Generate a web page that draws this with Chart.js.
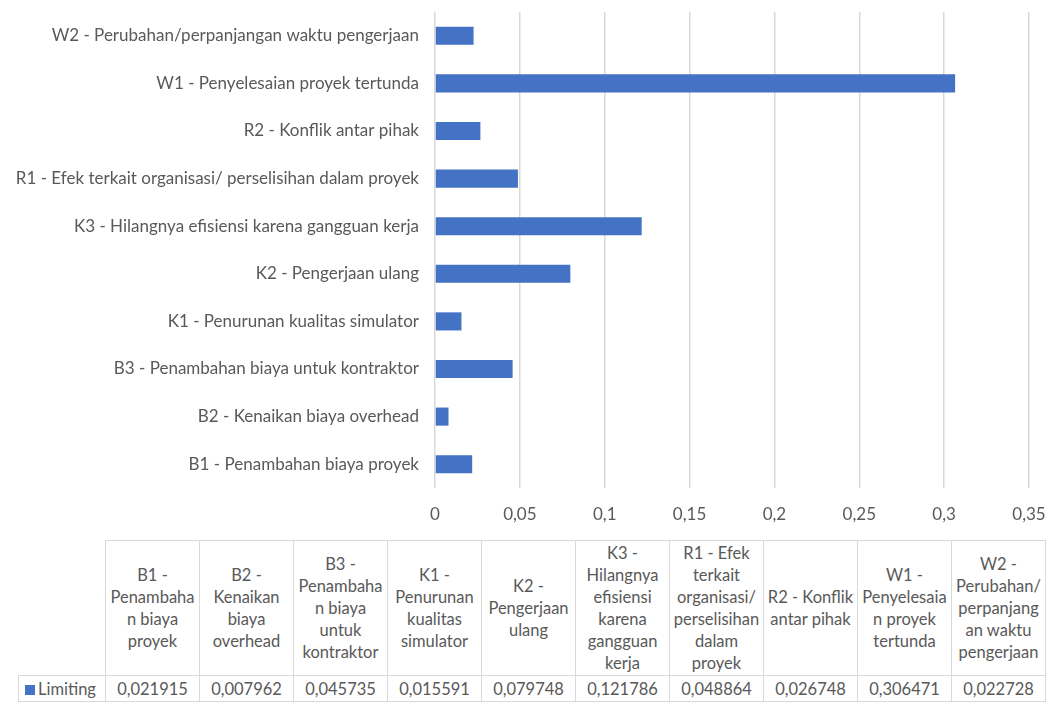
<!DOCTYPE html>
<html>
<head>
<meta charset="utf-8">
<script src="https://cdn.jsdelivr.net/npm/chart.js@4"></script>
<style>
  html, body { margin: 0; padding: 0; background: #fff; }
  body { width: 1048px; height: 704px; position: relative; overflow: hidden; font-family: Lato, "Open Sans", sans-serif; color: #595959; }
  #chartBox { position: absolute; left: 0; top: 0; width: 1048px; height: 530px; }
  #dataTable { position: absolute; left: 18px; top: 540px; border-collapse: collapse; table-layout: fixed; }
  #dataTable td { border: 1px solid #d9d9d9; text-align: center; font-size: 16.5px; line-height: 22px; padding: 0; color: #595959; white-space: nowrap; overflow: hidden; }
  #dataTable tr.head td { height: 134px; vertical-align: middle; }
  #dataTable tr.vals td { height: 25px; font-size: 16.5px; }
  #dataTable td.corner { border-top: none; border-left: none; }
  .swatch { display: inline-block; width: 10px; height: 10px; margin-right: 3px; vertical-align: 0px; }
</style>
</head>
<body>
<div id="chartBox"><canvas id="limitChart"></canvas></div>
<table id="dataTable"></table>
<script>
// Categories (bottom to top in the chart, left to right in the table)
const categories = [
    'B1 - Penambahan biaya proyek',
    'B2 - Kenaikan biaya overhead',
    'B3 - Penambahan biaya untuk kontraktor',
    'K1 - Penurunan kualitas simulator',
    'K2 - Pengerjaan ulang',
    'K3 - Hilangnya efisiensi karena gangguan kerja',
    'R1 - Efek terkait organisasi/ perselisihan dalam proyek',
    'R2 - Konflik antar pihak',
    'W1 - Penyelesaian proyek tertunda',
    'W2 - Perubahan/perpanjangan waktu pengerjaan'
];

// Header labels as wrapped in the data table
const tableHeaders = [
    ['B1 -', 'Penambaha', 'n biaya', 'proyek'],
    ['B2 -', 'Kenaikan', 'biaya', 'overhead'],
    ['B3 -', 'Penambaha', 'n biaya', 'untuk', 'kontraktor'],
    ['K1 -', 'Penurunan', 'kualitas', 'simulator'],
    ['K2 -', 'Pengerjaan', 'ulang'],
    ['K3 -', 'Hilangnya', 'efisiensi', 'karena', 'gangguan', 'kerja'],
    ['R1 - Efek', 'terkait', 'organisasi/', 'perselisihan', 'dalam', 'proyek'],
    ['R2 - Konflik', 'antar pihak'],
    ['W1 -', 'Penyelesaia', 'n proyek', 'tertunda'],
    ['W2 -', 'Perubahan/', 'perpanjang', 'an waktu', 'pengerjaan']
];

const seriesName = 'Limiting';
const limitingValues = [0.021915, 0.007962, 0.045735, 0.015591, 0.079748, 0.121786, 0.048864, 0.026748, 0.306471, 0.022728];
const valueLabels = ['0,021915', '0,007962', '0,045735', '0,015591', '0,079748', '0,121786', '0,048864', '0,026748', '0,306471', '0,022728'];

const xTickLabels = ['0', '0,05', '0,1', '0,15', '0,2', '0,25', '0,3', '0,35'];

const barColor = '#4472C4';
const textColor = '#595959';
const gridColor = '#d9d9d9';

function buildTable() {
    const table = document.getElementById('dataTable');
    let html = '<colgroup><col style="width:87px">';
    for (let i = 0; i < categories.length; i++) html += '<col style="width:94px">';
    html += '</colgroup><tr class="head"><td class="corner"></td>';
    tableHeaders.forEach(lines => { html += '<td>' + lines.join('<br>') + '</td>'; });
    html += '</tr><tr class="vals"><td style="text-align:left;padding-left:6px"><span class="swatch" style="background:' + barColor + '"></span>' + seriesName + '</td>';
    valueLabels.forEach(v => { html += '<td>' + v + '</td>'; });
    html += '</tr>';
    table.innerHTML = html;
}

function drawChart() {
    const ctx = document.getElementById('limitChart').getContext('2d');
    new Chart(ctx, {
        type: 'bar',
        data: {
            labels: categories,
            datasets: [{
                label: seriesName,
                data: limitingValues,
                backgroundColor: barColor,
                borderWidth: 0,
                barPercentage: 0.38,
                categoryPercentage: 1
            }]
        },
        options: {
            indexAxis: 'y',
            responsive: true,
            maintainAspectRatio: false,
            animation: false,
            layout: { padding: { left: 0, right: 19, top: 12, bottom: 0 } },
            plugins: {
                legend: { display: false },
                tooltip: { enabled: false }
            },
            scales: {
                x: {
                    min: 0,
                    max: 0.35,
                    ticks: {
                        stepSize: 0.05,
                        color: textColor,
                        font: { family: 'Lato', size: 17 },
                        padding: 16,
                        callback: function(value, index) {
                            return xTickLabels[index];
                        }
                    },
                    grid: { color: gridColor, lineWidth: 1.5, drawTicks: false },
                    border: { display: false },
                    afterFit: function(scale) {
                        scale.height = 42;
                        scale.paddingRight = 0;
                        scale.paddingLeft = 0;
                    }
                },
                y: {
                    reverse: true,
                    ticks: {
                        color: textColor,
                        font: { family: 'Lato', size: 17 },
                        padding: 16
                    },
                    grid: { display: false, drawTicks: false },
                    border: { display: false },
                    afterFit: function(scale) {
                        scale.width = 435;
                        scale.paddingTop = 0;
                        scale.paddingBottom = 0;
                    }
                }
            }
        }
    });
}

buildTable();
drawChart();
</script>
</body>
</html>
